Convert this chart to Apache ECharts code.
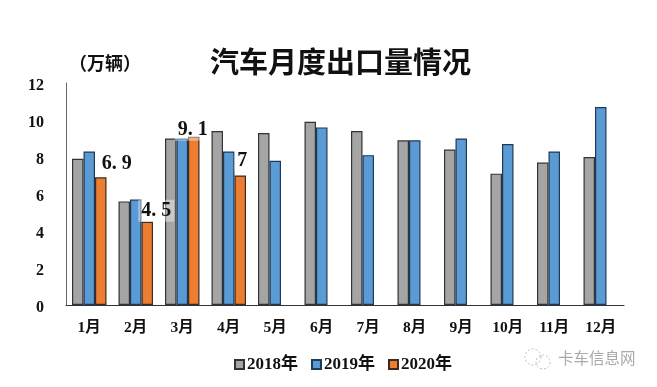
<!DOCTYPE html>
<html><head><meta charset="utf-8">
<style>html,body{margin:0;padding:0;background:#fff}#c{width:657px;height:387px}</style>
<script src="https://cdn.jsdelivr.net/npm/echarts@6/dist/echarts.min.js"></script>
</head><body><div id="c"></div>
<script>
const categories=['1月','2月','3月','4月','5月','6月','7月','8月','9月','10月','11月','12月'];
const yTicks=[0,2,4,6,8,10,12];
const v2018=[7.9,5.6,9.0,9.4,9.3,9.9,9.4,8.9,8.4,7.1,7.7,8.0];
const v2019=[8.3,5.7,9.0,8.3,7.8,9.6,8.1,8.9,9.0,8.7,8.3,10.7];
const v2020=[6.9,4.5,9.1,7,null,null,null,null,null,null,null,null];
const labelOffsets=[[16,2],[9,5],[-1,9],[2,1]];
const serif='"Liberation Serif","Noto Sans CJK SC",serif';
const chart=echarts.init(document.getElementById('c'),null,{renderer:'canvas'});
const mk=(name,data,color,border)=>({name,type:'bar',data,barWidth:11.5,barGap:'0%',
  itemStyle:{color,borderColor:border,borderWidth:1.2}});
const s3=mk('2020年',v2020.map((v,i)=>i<4?{value:v,label:{show:true,position:'top',offset:labelOffsets[i]}}:v),'#ed7d31','#3a2a20');
s3.label={show:false,formatter:p=>String(p.value).replace('.','. '),fontFamily:serif,fontWeight:'bold',fontSize:20,color:'#111',backgroundColor:'rgba(255,255,255,0.4)',padding:[1,3]};
chart.setOption({
  animation:false,
  title:{text:'汽车月度出口量情况',left:205,top:42,
    textStyle:{fontFamily:'"Noto Sans CJK SC",sans-serif',fontSize:29,fontWeight:'bold',color:'#111'}},
  grid:{left:66,right:33,top:83,bottom:82,containLabel:false},
  legend:{left:229,top:351,itemWidth:9,itemHeight:9,itemGap:13,icon:'rect',
    textStyle:{fontFamily:serif,fontWeight:'bold',fontSize:17,color:'#111',padding:[0,0,0,-2]},
    data:['2018年','2019年','2020年']},
  xAxis:{type:'category',data:categories,axisTick:{show:false},
    axisLine:{lineStyle:{color:'#333',width:1}},
    axisLabel:{margin:15,fontFamily:serif,fontWeight:'bold',fontSize:15.5,color:'#111'}},
  yAxis:{type:'value',min:0,max:12,interval:2,splitLine:{show:false},
    axisLine:{show:true,lineStyle:{color:'#666',width:1}},axisTick:{show:false},
    axisLabel:{margin:22,formatter:v=>yTicks.includes(v)?'{a|'+v+'}':'',
      rich:{a:{padding:[6,0,0,0],fontFamily:serif,fontWeight:'bold',fontSize:16,color:'#111'}}}},
  series:[mk('2018年',v2018,'#a5a5a5','#333'),mk('2019年',v2019,'#5b9bd5','#1f3a55'),s3],
  graphic:[
    {type:'text',left:69,top:54,style:{text:'（万辆）',font:'bold 18px "Noto Sans CJK SC",sans-serif',fill:'#111'}},
    {type:'text',left:558,top:350,style:{text:'卡车信息网',font:'15.5px "Noto Sans CJK SC",sans-serif',fill:'#aaa'}},
    {type:'circle',shape:{cx:533,cy:357,r:8},style:{fill:'none',stroke:'#bbb',lineWidth:1,lineDash:[2,2]}},
    {type:'circle',shape:{cx:543,cy:362,r:7},style:{fill:'none',stroke:'#bbb',lineWidth:1,lineDash:[2,2]}}
  ]
});
</script></body></html>
